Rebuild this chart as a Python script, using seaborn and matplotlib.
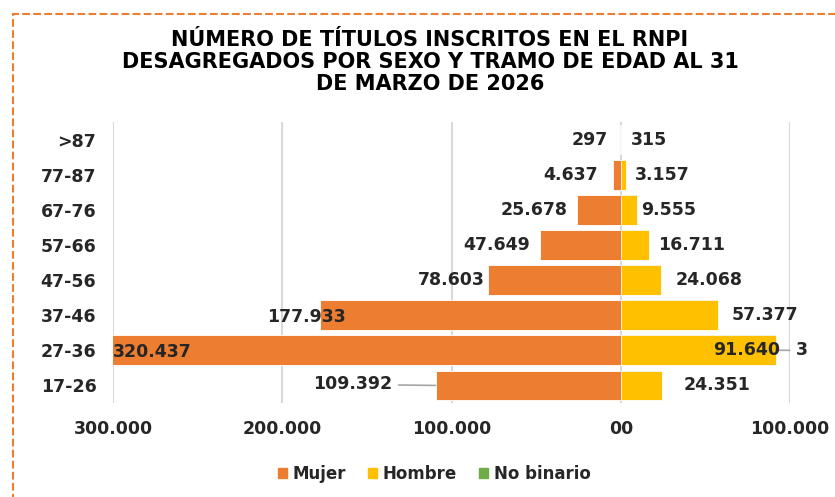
import pandas as pd
import matplotlib.pyplot as plt
import seaborn as sns
from matplotlib.patches import Patch, Rectangle

# Data (top to bottom as in the chart)
tramos = [">87", "77-87", "67-76", "57-66", "47-56", "37-46", "27-36", "17-26"]
mujer = [297, 4637, 25678, 47649, 78603, 177933, 320437, 109392]
hombre = [315, 3157, 9555, 16711, 24068, 57377, 91640, 24351]
no_binario = [0, 0, 0, 0, 0, 0, 3, 0]

xticks = [-300000, -200000, -100000, 0, 100000]
xtick_labels = ["300.000", "200.000", "100.000", "00", "100.000"]

title = ("NÚMERO DE TÍTULOS INSCRITOS EN EL RNPI\n"
         "DESAGREGADOS POR SEXO Y TRAMO DE EDAD AL 31\n"
         "DE MARZO DE 2026")

c_mujer, c_hombre, c_nb = "#ED7D31", "#FFC000", "#70AD47"

df = pd.DataFrame({"tramo": tramos, "mujer": mujer, "hombre": hombre, "no_binario": no_binario})
df["mujer_neg"] = -df["mujer"]
df["hombre_nb"] = df["hombre"] + df["no_binario"]

sns.set_theme(style="white")
plt.rcParams["font.family"] = ["DejaVu Sans"]

fig = plt.figure(figsize=(8.35, 4.97), dpi=100)
ax = fig.add_axes([113 / 835, 1 - 403 / 497, (790 - 113) / 835, (403 - 122) / 497])

sns.barplot(data=df, x="mujer_neg", y="tramo", color=c_mujer, width=0.85,
            orient="h", ax=ax, edgecolor="white", linewidth=0.6, saturation=1)
sns.barplot(data=df, x="hombre_nb", y="tramo", color=c_nb, width=0.85,
            orient="h", ax=ax, linewidth=0, saturation=1)
sns.barplot(data=df, x="hombre", y="tramo", color=c_hombre, width=0.85,
            orient="h", ax=ax, edgecolor="white", linewidth=0.6, saturation=1)

ax.set_xlim(-300000, 100000)
ax.set_xticks(xticks)
ax.set_xticklabels(xtick_labels, fontweight="bold", fontsize=12.5)
ax.set_xlabel("")
ax.set_ylabel("")
for lab in ax.get_yticklabels():
    lab.set_fontweight("bold")
    lab.set_fontsize(12.5)
    lab.set_color("#262626")
ax.tick_params(axis="y", length=0, pad=12)
ax.tick_params(axis="x", length=0, pad=12, colors="#262626")
ax.grid(axis="x", color="#D9D9D9", lw=1.5)
ax.set_axisbelow(True)
sns.despine(ax=ax, left=True, bottom=True)

px = 0.72  # points per pixel at dpi 100
lab_kw = dict(fontsize=12.5, fontweight="bold", color="#262626", va="center",
              textcoords="offset points")

# Mujer labels: pixel offsets from bar end
m_off = [-12, -15, -10, -10, -3]
for i, v in enumerate(mujer):
    txt = f"{v:,}".replace(",", ".")
    if i < 5:
        ax.annotate(txt, (-v, i), xytext=(m_off[i] * px, 0), ha="right", **lab_kw)
    elif tramos[i] == "37-46":
        ax.annotate(txt, (-v, i), xytext=(-13 * px, -2 * px), ha="center", **lab_kw)
    elif tramos[i] == "27-36":
        ax.annotate(txt, (-300000, i), xytext=(0, -2 * px), ha="left", **lab_kw)
    else:
        ax.annotate(txt, (-v, i), xytext=(-43 * px, 1 * px), ha="right",
                    arrowprops=dict(arrowstyle="-", color="#A6A6A6", lw=1.2,
                                    shrinkA=2, shrinkB=0), **lab_kw)

# Hombre labels
h_off = [10, 9, 4, 9, 14, 14, None, 22]
for i, v in enumerate(hombre):
    txt = f"{v:,}".replace(",", ".")
    if h_off[i] is None:
        nb = no_binario[i]
        ax.annotate(str(nb), (v + nb, i), xytext=(20 * px, 0), ha="left",
                    arrowprops=dict(arrowstyle="-", color="#A6A6A6", lw=1.2,
                                    shrinkA=2, shrinkB=0), **lab_kw)
        ax.annotate(txt, (v, i), xytext=(4 * px, 0), ha="right", **lab_kw)
    else:
        ax.annotate(txt, (v, i), xytext=(h_off[i] * px, 0), ha="left", **lab_kw)

fig.text(430 / 835, 1 - 62 / 497, title, ha="center", va="center",
         fontweight="bold", fontsize=15, color="black", linespacing=1.15)

handles = [Patch(color=c_mujer), Patch(color=c_hombre), Patch(color=c_nb)]
fig.legend(handles, ["Mujer", "Hombre", "No binario"], loc="center",
           bbox_to_anchor=(434 / 835, 1 - 474 / 497), ncol=3, frameon=False,
           handlelength=0.55, handleheight=0.55, handletextpad=0.35,
           columnspacing=1.3, prop={"weight": "bold", "size": 12})
for t in fig.legends[0].get_texts():
    t.set_color("#262626")

fig.patches.append(Rectangle((13 / 835, -0.1), 1.2, 1 - 14 / 497 + 0.1,
                             transform=fig.transFigure, fill=False,
                             ls="--", ec=c_mujer, lw=1.5))

fig.savefig("out.png", dpi=100)
